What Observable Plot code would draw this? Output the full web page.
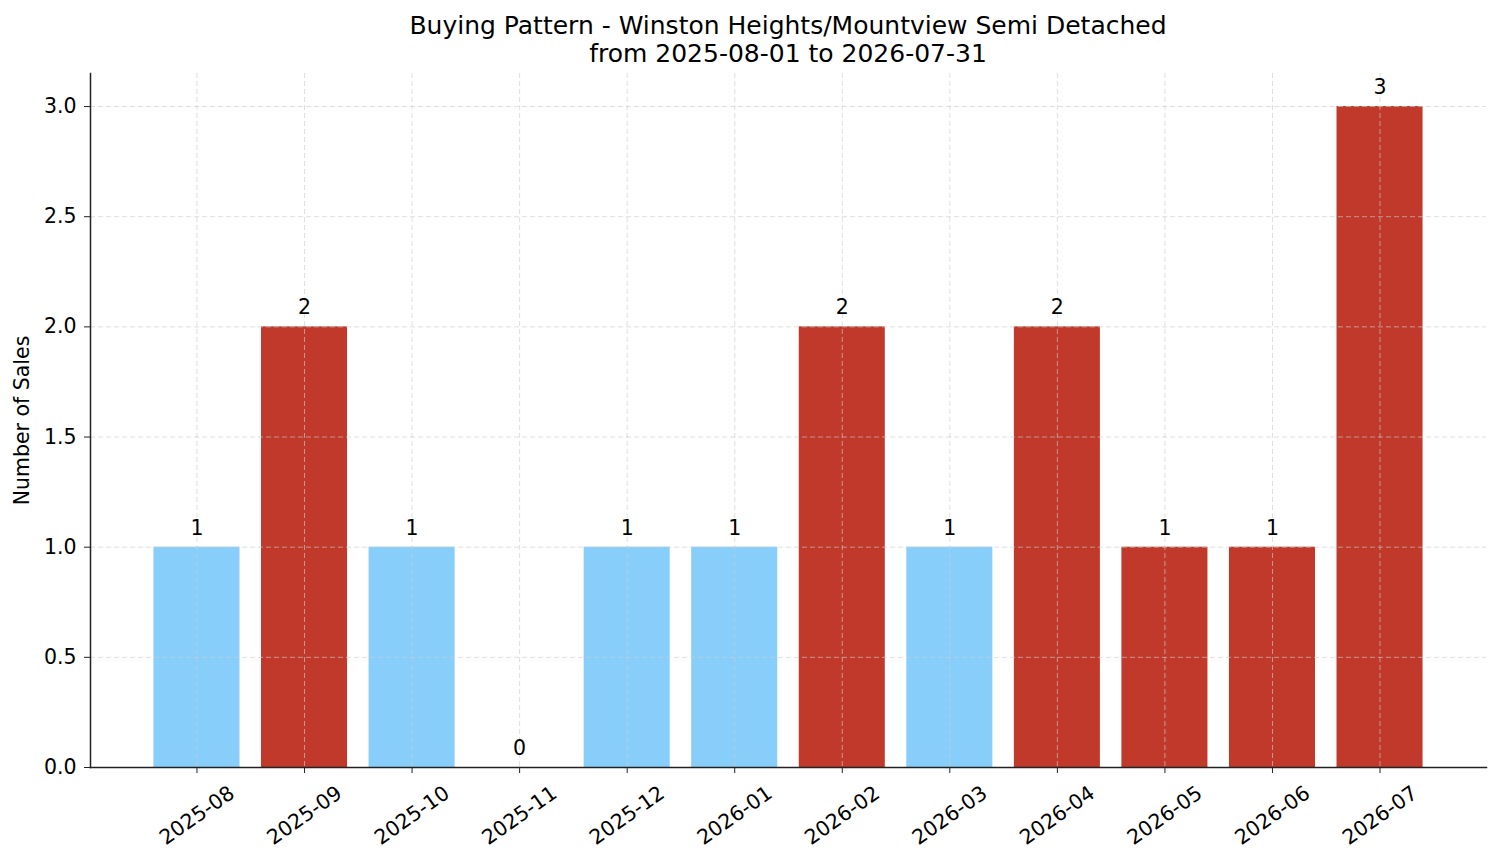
<!DOCTYPE html>
<html>
<head>
<meta charset="utf-8">
<script src="https://cdn.jsdelivr.net/npm/d3@7"></script>
<script src="https://cdn.jsdelivr.net/npm/@observablehq/plot@0.6"></script>
<style>
  body { margin: 0; background: #fff; font-family: "DejaVu Sans", sans-serif; }
  #title { width: 1501px; height: 66px; text-align: center; font-size: 25px; line-height: 28px; padding-top: 12px; padding-left: 75px; box-sizing: border-box; color: #000; }
</style>
</head>
<body>
<div id="title">Buying Pattern - Winston Heights/Mountview Semi Detached<br>from 2025-08-01 to 2026-07-31</div>
<div id="chart"></div>
<script>
const months = ["2025-08","2025-09","2025-10","2025-11","2025-12","2026-01","2026-02","2026-03","2026-04","2026-05","2026-06","2026-07"];
const sales = [1, 2, 1, 0, 1, 1, 2, 1, 2, 1, 1, 3];
const barColors = ["#87CEFA","#C0392B","#87CEFA","#87CEFA","#87CEFA","#87CEFA","#C0392B","#87CEFA","#C0392B","#C0392B","#C0392B","#C0392B"];
const yTicks = [0, 0.5, 1.0, 1.5, 2.0, 2.5, 3.0];

const data = months.map((m, i) => ({month: m, sales: sales[i], color: barColors[i]}));

const chart = Plot.plot({
  width: 1501,
  height: 797,
  marginTop: 7,
  marginBottom: 96,
  marginLeft: 90,
  marginRight: 15,
  style: {fontFamily: "DejaVu Sans, sans-serif", fontSize: "20px", color: "#000", background: "#fff"},
  x: {type: "band", domain: months, paddingInner: 0.2, paddingOuter: 0.59, align: 0.5, round: false, label: null},
  y: {domain: [0, 3.15], label: null},
  marks: [
    Plot.barY(data, {x: "month", y: "sales", fill: "color"}),
    Plot.gridX(months, {x: d => d, stroke: "#ccc", strokeOpacity: 0.8, strokeDasharray: "5,3", strokeWidth: 0.8}),
    Plot.gridY(yTicks, {y: d => d, stroke: "#ccc", strokeOpacity: 0.8, strokeDasharray: "5,3", strokeWidth: 0.8}),
    Plot.text(data, {x: "month", y: "sales", text: d => String(d.sales), dy: -19, fontSize: 20.5, fill: "#000"}),
    Plot.axisY(yTicks, {tickFormat: d3.format(".1f"), tickSize: 6, tickPadding: 8, fontSize: 20.5, stroke: "#222", label: null}),
    Plot.axisX({tickSize: 6, tickFormat: () => "", label: null, stroke: "#222"}),
    Plot.text(months, {x: d => d, frameAnchor: "bottom", dy: 48, rotate: -35, textAnchor: "middle", lineAnchor: "middle", fontSize: 20.5, fill: "#000"}),
    Plot.frame({anchor: "left", stroke: "#222", strokeWidth: 1.5}),
    Plot.frame({anchor: "bottom", stroke: "#222", strokeWidth: 1.5}),
    Plot.text(["Number of Sales"], {frameAnchor: "left", dx: -68, rotate: -90, textAnchor: "middle", fontSize: 20.5, fill: "#000"})
  ]
});
document.getElementById("chart").appendChild(chart);
</script>
</body>
</html>
